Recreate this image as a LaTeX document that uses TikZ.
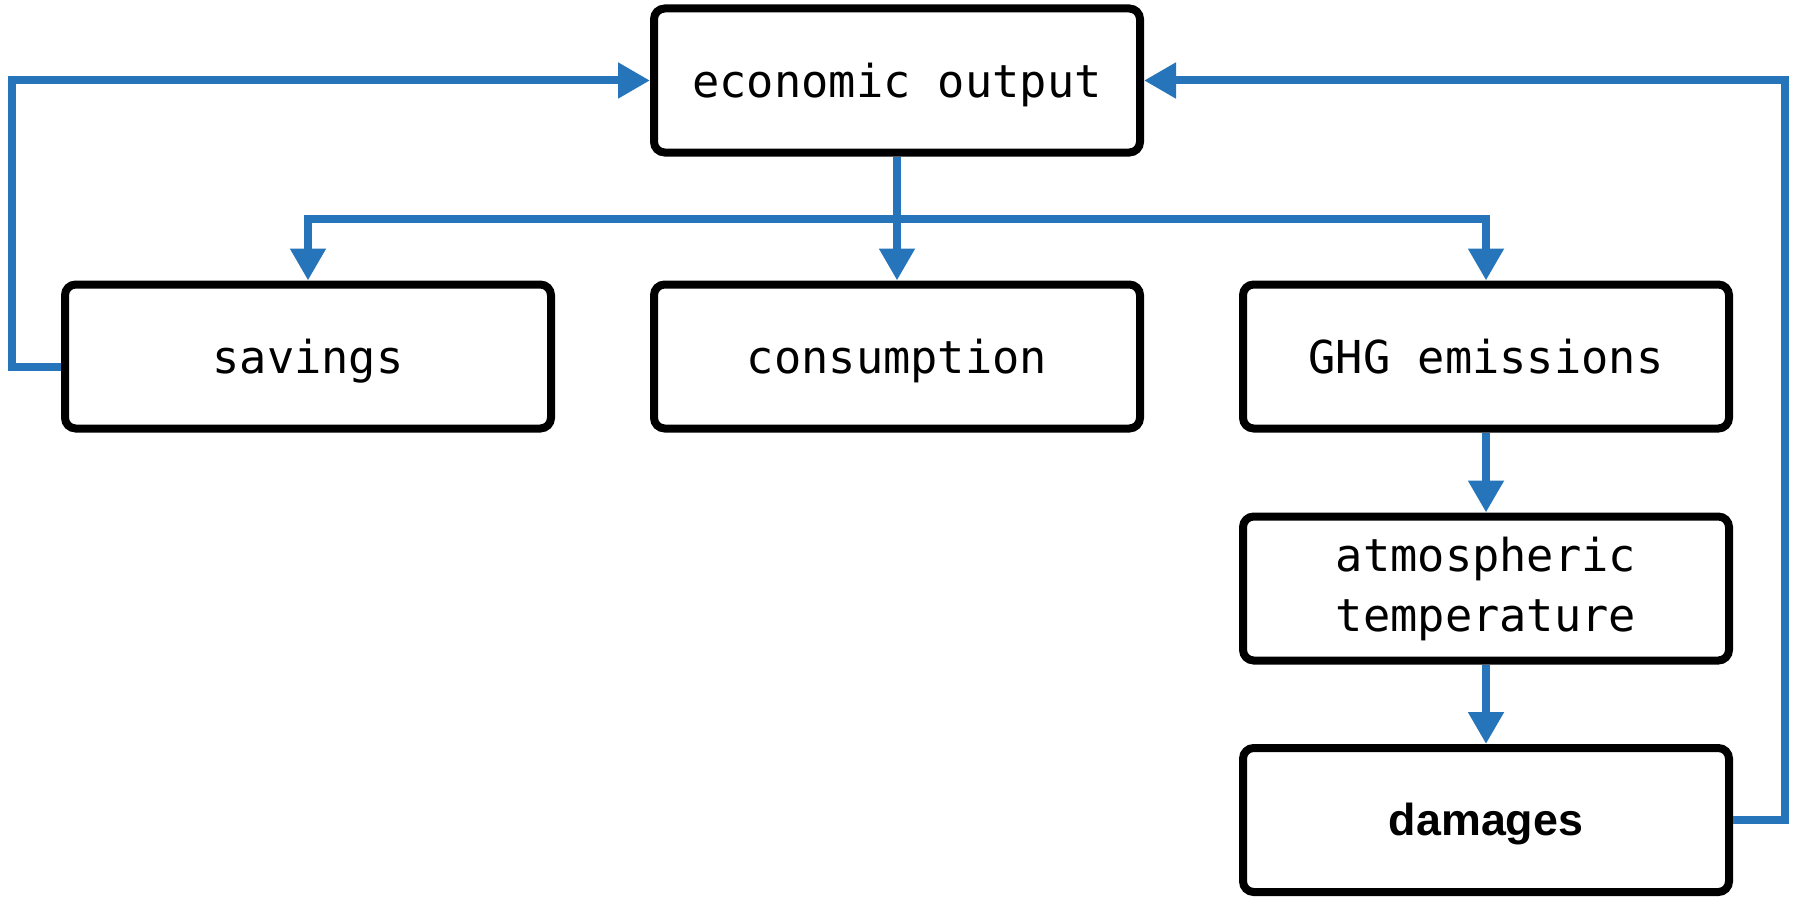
\documentclass[tikz,border=0pt]{standalone}
\usepackage{fontspec}
\setmonofont{DejaVu Sans Mono}
\newfontfamily\damagefont{Liberation Sans}
\usetikzlibrary{arrows.meta,calc}
\definecolor{flowblue}{RGB}{38,116,186}

\begin{document}
\begin{tikzpicture}[x=0.75pt,y=0.75pt,yscale=-1,xscale=1,
    box/.style={draw=black,line width=6pt,rounded corners=8pt,fill=white,
      minimum width=364.5pt,minimum height=108pt,align=center,
      font=\ttfamily\fontsize{34}{45}\selectfont},
    oneline/.style={text height=34pt,text depth=8pt},
    flow/.style={draw=flowblue,line width=6pt,-{Triangle[length=24pt,width=25.5pt]}}]
            \useasboundingbox (0,0) rectangle (1794,906);
            %Shape: Rounded Rect
            \node [box,oneline] (econ) at (897,80.5) {economic output};
            %Shape: Rounded Rect
            \node [box,oneline] (savings) at (308,356.5) {savings};
            %Shape: Rounded Rect
            \node [box,oneline] (consumption) at (897,356.5) {consumption};
            %Shape: Rounded Rect
            \node [box,oneline] (ghg) at (1486,356.5) {GHG emissions};
            %Shape: Rounded Rect
            \node [box] (atmos) at (1486,588.5) {atmospheric\\temperature};
            %Shape: Rounded Rect
            \node [box,font=\damagefont\bfseries\fontsize{33.6}{40}\selectfont,
              text height=30pt,text depth=7pt] (damages) at (1486,820) {damages};

            % corner points of the loops and the split
            \coordinate (busmid) at (897,219);
            \coordinate (leftloop) at (12,80.5);
            \coordinate (rightloop) at (1785,80.5);

            %Straight Lines
            \draw [flow] (econ.south) -- (consumption.north);
            %Straight Lines
            \draw [flow] (busmid) -| (savings.north);
            %Straight Lines
            \draw [flow] (busmid) -| (ghg.north);
            %Straight Lines
            \draw [flow] (ghg.south) -- (atmos.north);
            %Straight Lines
            \draw [flow] (atmos.south) -- (damages.north);
            %Straight Lines
            \draw [flow] ($(savings.west)+(0,10.5)$) -| (leftloop) -- (econ.west);
            %Straight Lines
            \draw [flow] (damages.east) -| (rightloop) -- (econ.east);
\end{tikzpicture}
\end{document}
